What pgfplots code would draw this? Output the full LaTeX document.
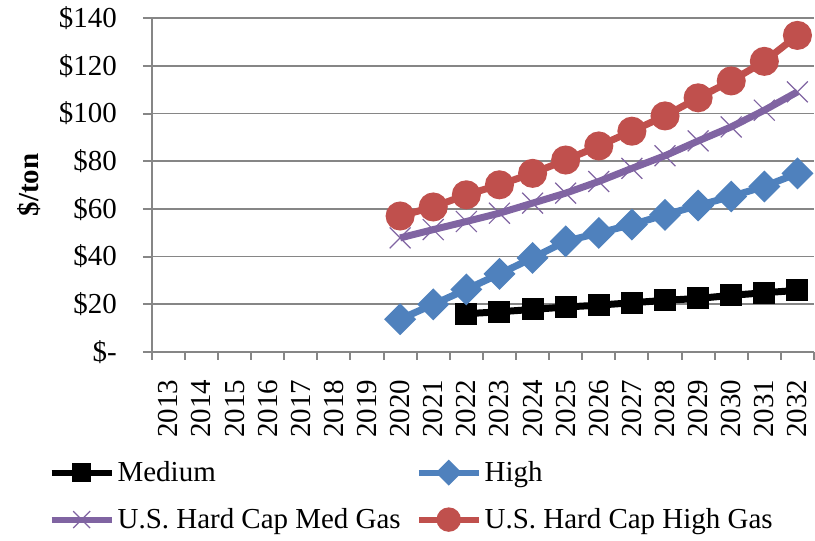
\documentclass[border=0pt]{standalone}
\usepackage{fontspec}
\setmainfont{Liberation Serif}
\usepackage{pgfplots}
\pgfplotsset{compat=1.18}
\definecolor{cblue}{HTML}{4F81BD}
\definecolor{cred}{HTML}{C0504D}
\definecolor{cpurple}{HTML}{8064A2}
\definecolor{cgrid}{HTML}{868686}
\newcommand\fs{\fontsize{14.5}{17}\selectfont}
\pgfplotsset{
  legblack/.style={legend image code/.code={\draw[mark repeat=2,mark phase=2,##1,line width=3pt,mark size=3.2pt] plot coordinates {(0pt,0pt) (15pt,0pt) (30pt,0pt)};}},
  legblue/.style={legend image code/.code={\draw[mark repeat=2,mark phase=2,##1,line width=3pt,mark size=3.1pt] plot coordinates {(0pt,0pt) (15pt,0pt) (30pt,0pt)};}},
  legpurple/.style={legend image code/.code={\draw[mark repeat=2,mark phase=2,##1,line width=3pt,mark size=6pt] plot coordinates {(0pt,0pt) (15pt,0pt) (30pt,0pt)};}},
  legred/.style={legend image code/.code={\draw[mark repeat=2,mark phase=2,##1,line width=3pt,mark size=4.6pt] plot coordinates {(0pt,0pt) (15pt,0pt) (30pt,0pt)};}},
}
\begin{document}
\begin{tikzpicture}
\begin{axis}[
  name=ax,
  scale only axis,
  width=331.5pt, height=167pt,
  xmin=2012.5, xmax=2032.5,
  ymin=0, ymax=140,
  clip=false,
  axis x line*=bottom, axis y line*=left,
  axis line style={-, draw=cgrid, line width=1pt},
  ytick={0,20,...,140},
  yticklabels={\$-,\$20,\$40,\$60,\$80,\$100,\$120,\$140},
  xtick={2013,...,2032},
  xticklabels={2013,2014,2015,2016,2017,2018,2019,2020,2021,2022,2023,2024,2025,2026,2027,2028,2029,2030,2031,2032},
  minor xtick={2012.5,2013.5,...,2032.5},
  tick align=outside,
  major tick length=4.5pt,
  minor tick length=4pt,
  major x tick style={draw=none},
  minor x tick style={draw=cgrid, line width=1pt},
  major y tick style={draw=cgrid, line width=1pt},
  ymajorgrids,
  major grid style={draw=cgrid, line width=0.75pt},
  tick label style={font=\fs},
  xticklabel style={rotate=90, anchor=east, xshift=-6pt},
  yticklabel style={xshift=-9.5pt},
  ylabel={\textbf{\$/ton}},
  ylabel style={font=\fs, at={(axis description cs:-0.185,0.5)}, anchor=center},
  legend columns=2,
  legend cell align=left,
  legend style={draw=none, fill=none, inner sep=0pt, font=\fs,
    at={(axis description cs:-0.1563,-0.317)}, anchor=north west,
    row sep=9pt, nodes={inner sep=1.5pt},
    /tikz/column 2/.style={column sep=6pt}},
]
\addplot[black, line width=3.5pt, mark=square*, mark size=3.75pt, legblack]
 coordinates {(2022,16.0)(2023,16.8)(2024,17.8)(2025,18.8)(2026,19.6)(2027,20.6)(2028,21.6)(2029,22.4)(2030,23.7)(2031,24.8)(2032,25.8)};
\addlegendentry{Medium}
\addplot[cblue, line width=3.5pt, mark=square*, mark size=3.9pt, mark options={rotate=45}, legblue]
 coordinates {(2020,13.7)(2021,19.9)(2022,26.2)(2023,32.7)(2024,39.4)(2025,46.4)(2026,49.9)(2027,53.4)(2028,57.5)(2029,61.4)(2030,65.2)(2031,69.4)(2032,74.9)};
\addlegendentry{High}
\addplot[cpurple, line width=3.5pt, mark=x, mark size=7.4pt, mark options={line width=0.6pt}, legpurple]
 coordinates {(2020,47.8)(2021,51.3)(2022,54.7)(2023,58.2)(2024,62.4)(2025,66.6)(2026,71.5)(2027,77.0)(2028,82.3)(2029,88.5)(2030,94.4)(2031,101.4)(2032,109.1)};
\addlegendentry{U.S. Hard Cap Med Gas}
\addplot[cred, line width=3.5pt, mark=*, mark size=5.5pt, legred]
 coordinates {(2020,57.0)(2021,60.8)(2022,65.9)(2023,70.1)(2024,74.9)(2025,80.5)(2026,86.4)(2027,92.6)(2028,99.0)(2029,106.6)(2030,113.7)(2031,121.9)(2032,132.8)};
\addlegendentry{U.S. Hard Cap High Gas}
\end{axis}
\path ([xshift=-76pt,yshift=8.5pt]ax.north west) rectangle ([yshift=-94.5pt]ax.south east);
\end{tikzpicture}
\end{document}
